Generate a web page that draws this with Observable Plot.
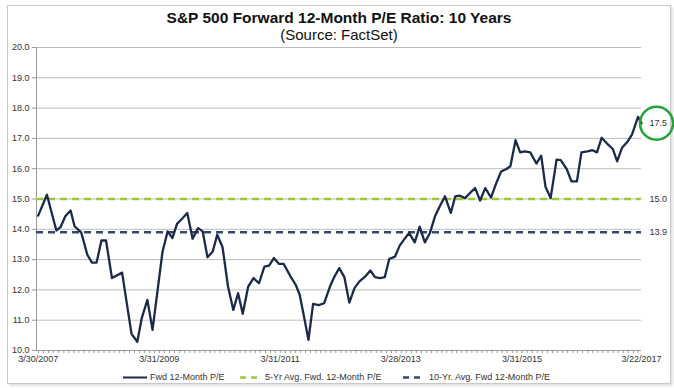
<!DOCTYPE html>
<html><head><meta charset="utf-8">
<script src="https://cdn.jsdelivr.net/npm/d3@7"></script>
<script src="https://cdn.jsdelivr.net/npm/@observablehq/plot@0.6"></script>
<style>
body{margin:0;background:#fff;font-family:"Liberation Sans",Arial,sans-serif;}
#wrap{position:relative;width:674px;height:388px;overflow:hidden;background:#fff;}
#frame{position:absolute;left:7px;top:5px;width:662px;height:377px;border:1px solid #c9c9c9;box-shadow:2px 2px 2px #e2e2e2;}
#title{position:absolute;top:9px;left:0;width:678px;text-align:center;font-weight:bold;font-size:15.5px;color:#111;line-height:17px;}
#subtitle{position:absolute;top:26px;left:0;width:678px;text-align:center;font-size:15px;color:#111;line-height:17px;}
#chart{position:absolute;top:40px;left:0;}
.lg{position:absolute;top:372px;font-size:9px;color:#333;line-height:11px;white-space:nowrap;}
.sw{position:absolute;top:372px;}
</style>
</head><body>
<div id="wrap">
  <div id="frame"></div>
  <div id="title">S&amp;P 500 Forward 12-Month P/E Ratio: 10 Years</div>
  <div id="subtitle">(Source: FactSet)</div>
  <div id="chart"></div>
  <div id="legend"></div>
</div>
<script>
// ---- data ----
const dates = ["2007-03-30","2007-05-22","2007-07-18","2007-08-12","2007-09-10","2007-10-12","2007-11-05","2007-11-25","2007-12-15","2008-01-21",
"2008-02-18","2008-03-17","2008-04-15","2008-05-13","2008-06-18","2008-08-18","2008-10-14","2008-11-18","2008-12-15","2009-01-18",
"2009-02-18","2009-04-19","2009-05-20","2009-06-18","2009-07-16","2009-08-14","2009-09-16","2009-10-18","2009-11-20","2009-12-18",
"2010-01-16","2010-02-17","2010-03-16","2010-04-17","2010-05-20","2010-06-21","2010-07-20","2010-08-17","2010-09-19","2010-10-21",
"2010-11-23","2010-12-26","2011-01-23","2011-02-21","2011-03-23","2011-04-21","2011-06-02","2011-07-03","2011-07-27","2011-08-22",
"2011-09-18","2011-10-16","2011-11-18","2011-12-22","2012-01-26","2012-02-22","2012-03-22","2012-04-22","2012-05-22","2012-06-22",
"2012-07-22","2012-08-22","2012-09-26","2012-10-24","2012-11-22","2012-12-22","2013-01-18","2013-02-22","2013-03-22","2013-04-16",
"2013-05-18","2013-06-21","2013-07-21","2013-08-21","2013-09-21","2013-10-21","2013-11-21","2013-12-21","2014-01-25","2014-02-21",
"2014-03-21","2014-04-21","2014-05-21","2014-06-21","2014-07-21","2014-08-21","2014-09-25","2014-10-27","2014-11-25","2014-12-27",
"2015-01-20","2015-02-20","2015-03-20","2015-04-16","2015-05-20","2015-06-26","2015-07-25","2015-08-20","2015-09-20","2015-10-26",
"2015-11-20","2015-12-26","2016-01-24","2016-02-26","2016-03-24","2016-04-30","2016-05-30","2016-06-26","2016-07-24","2016-08-26",
"2016-09-30","2016-10-26","2016-11-24","2016-12-26","2017-01-24","2017-03-01","2017-03-22"];
const fwdPE = [14.45,15.14,13.96,14.07,14.43,14.62,14.1,14.0,13.9,13.16,
12.9,12.9,13.63,13.63,12.39,12.57,10.55,10.29,11.07,11.67,
10.68,13.25,13.93,13.71,14.18,14.34,14.54,13.69,14.04,13.93,
13.08,13.27,13.82,13.41,12.11,11.34,11.89,11.21,12.11,12.39,
12.22,12.77,12.8,13.05,12.86,12.86,12.44,12.17,11.84,11.12,
10.35,11.54,11.5,11.56,12.11,12.44,12.72,12.42,11.58,12.06,
12.28,12.42,12.64,12.42,12.39,12.42,13.02,13.1,13.46,13.65,
13.88,13.57,14.09,13.57,13.88,14.42,14.78,15.09,14.54,15.09,
15.11,15.03,15.2,15.36,14.95,15.36,15.05,15.53,15.91,15.99,
16.08,16.94,16.54,16.57,16.54,16.17,16.43,15.4,15.03,16.3,
16.28,15.99,15.58,15.58,16.54,16.57,16.61,16.54,17.02,16.83,
16.65,16.24,16.69,16.88,17.13,17.71,17.5];
const avg5yr = 15.0;
const avg10yr = 13.9;
const xTickLabels = ["2007-03-30","2009-03-31","2011-03-31","2013-03-28","2015-03-31","2017-03-22"];
const yTicks = [10,11,12,13,14,15,16,17,18,19,20];
const seriesNames = ["Fwd 12-Month P/E","5-Yr Avg. Fwd. 12-Month P/E","10-Yr. Avg. Fwd 12-Month P/E"];
const colors = ["#1b2a4a","#9cc63f","#34496d"];

// ---- build ----
const data = dates.map((d,i)=>({date:new Date(d), pe:fwdPE[i]}));
const xStart = new Date("2007-03-20"), xEnd = new Date("2017-03-22");
const last = data[data.length-1];
const endLabels = [{v:last.pe},{v:avg5yr},{v:avg10yr}];
const fmtDate = d3.utcFormat("%-m/%-d/%Y");
const minorTicks = d3.utcMonth.range(xStart, xEnd);

const chart = Plot.plot({
  width: 674, height: 332,
  marginLeft: 36, marginRight: 33, marginTop: 7, marginBottom: 22,
  style: {fontFamily: "'Liberation Sans', Arial, sans-serif", fontSize: "9px", color: "#333", background: "transparent", overflow: "visible"},
  x: {type: "utc", domain: [xStart, xEnd]},
  y: {domain: [10, 20]},
  marks: [
    Plot.gridY(yTicks, {stroke: "#bdbdbd", strokeOpacity: 1}),
    Plot.axisY(yTicks, {tickFormat: d => d.toFixed(1), tickSize: 4, tickPadding: 3, stroke: "#999", label: null}),
    Plot.ruleX([xStart], {stroke: "#999"}),
    Plot.ruleY([10], {stroke: "#999"}),
    Plot.axisX(minorTicks, {tickSize: 3, tickFormat: () => "", stroke: "#999", strokeOpacity: 1, label: null}),
    Plot.axisX(xTickLabels.map(d => new Date(d)), {tickSize: 0, tickPadding: 5, tickFormat: fmtDate, label: null}),
    Plot.ruleY([avg5yr], {stroke: colors[1], strokeWidth: 2.5, strokeDasharray: "7,5"}),
    Plot.ruleY([avg10yr], {stroke: colors[2], strokeWidth: 2.5, strokeDasharray: "7,5"}),
    Plot.line(data, {x: "date", y: "pe", stroke: colors[0], strokeWidth: 2.3}),
    Plot.text(endLabels, {x: () => xEnd, y: "v", text: d => d.v.toFixed(1), dx: 8, textAnchor: "start", fill: "#333"}),
    Plot.dot([last], {x: () => xEnd, y: "pe", r: 16.5, dx: 15, stroke: "#22a23a", strokeWidth: 2.5, fill: "none"})
  ]
});
document.getElementById("chart").appendChild(chart);

// ---- legend ----
const lg = document.getElementById("legend");
const items = [
  {x: 123, w: 24, dash: null, tx: 150},
  {x: 240, w: 21, dash: "6,5", tx: 265},
  {x: 403, w: 21, dash: "6,5", tx: 429}
];
items.forEach((it, i) => {
  const s = document.createElementNS("http://www.w3.org/2000/svg", "svg");
  s.setAttribute("class", "sw");
  s.setAttribute("width", it.w); s.setAttribute("height", 11);
  s.style.left = it.x + "px";
  const l = document.createElementNS("http://www.w3.org/2000/svg", "line");
  l.setAttribute("x1", 0); l.setAttribute("x2", it.w); l.setAttribute("y1", 5.5); l.setAttribute("y2", 5.5);
  l.setAttribute("stroke", colors[i]); l.setAttribute("stroke-width", i === 0 ? 2 : 2.5);
  if (it.dash) l.setAttribute("stroke-dasharray", it.dash);
  s.appendChild(l);
  lg.appendChild(s);
  const t = document.createElement("div");
  t.className = "lg"; t.style.left = it.tx + "px"; t.textContent = seriesNames[i];
  lg.appendChild(t);
});
</script>
</body></html>
